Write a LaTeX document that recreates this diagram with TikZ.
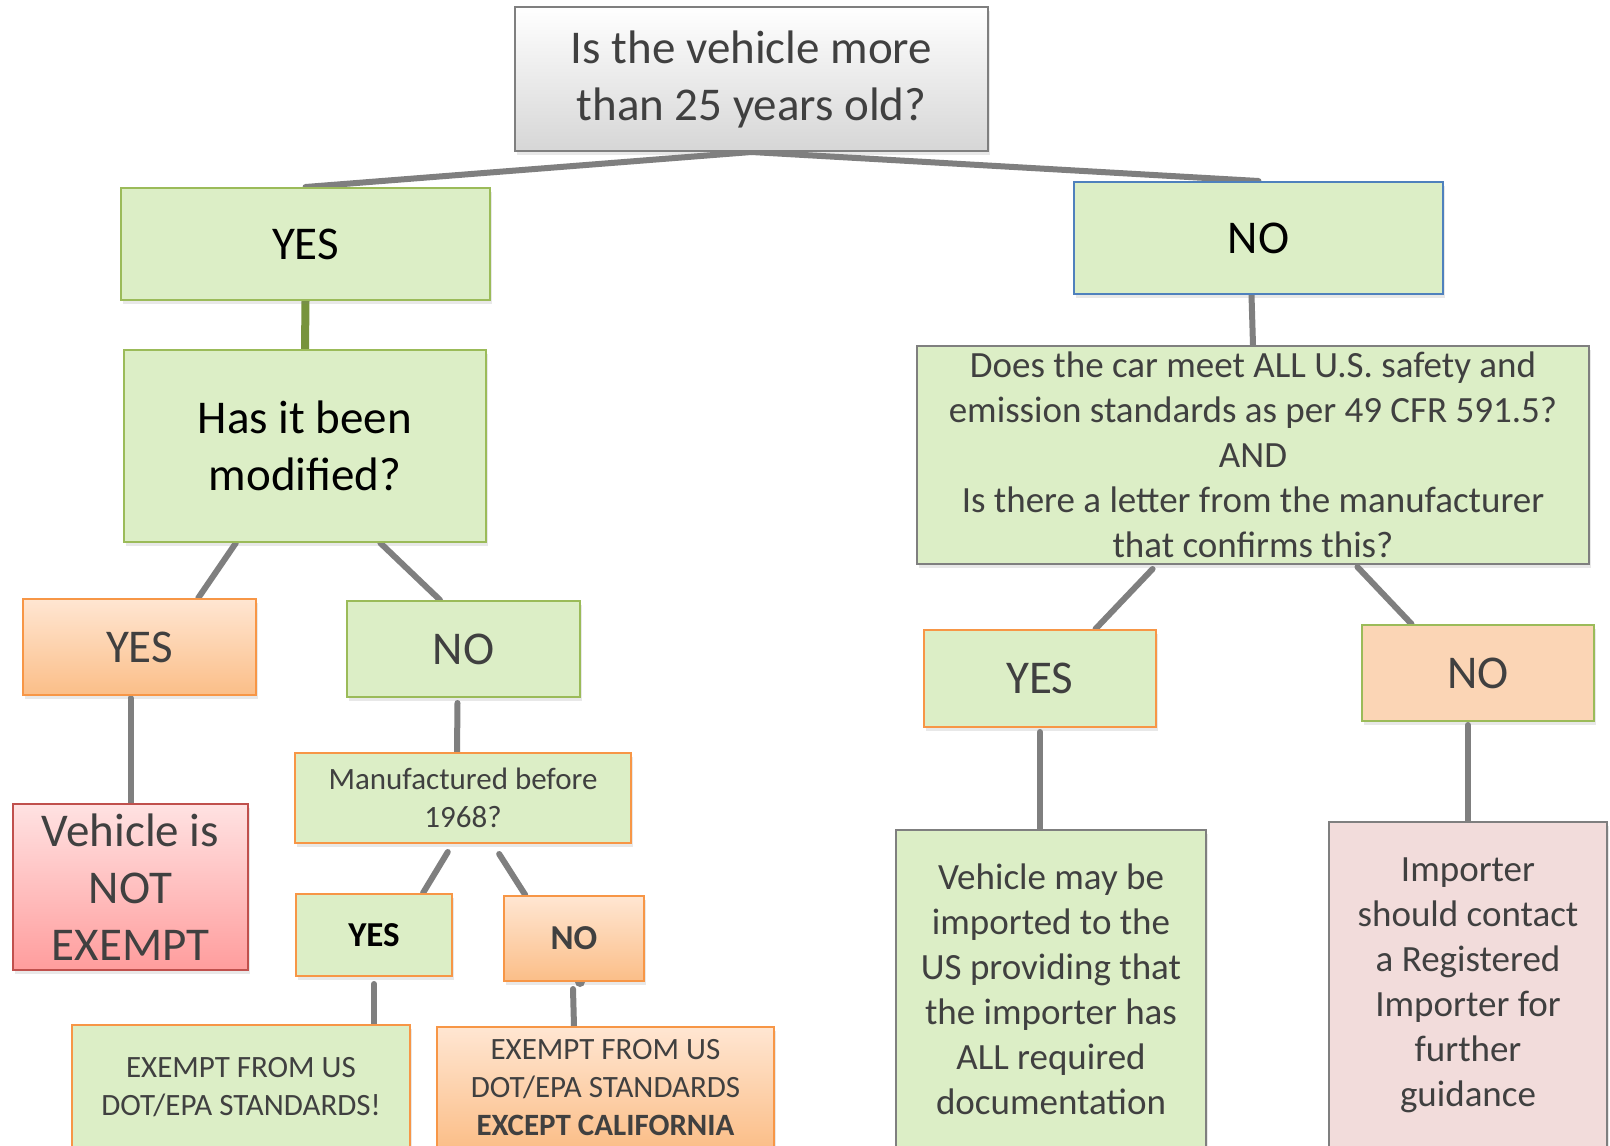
\documentclass[tikz,border=0pt]{standalone}
\usepackage{fontspec}
\setmainfont{Carlito}
\usetikzlibrary{shadows,calc,backgrounds}
\definecolor{gfill}{HTML}{DCEEC6}
\definecolor{gborder}{HTML}{9BBB59}
\definecolor{bborder}{HTML}{4F81BD}
\definecolor{oborder}{HTML}{F79646}
\definecolor{otop}{HTML}{FFE6D2}
\definecolor{obot}{HTML}{FBBE88}
\definecolor{rtop}{HTML}{FFE2E2}
\definecolor{rbot}{HTML}{FF9D9D}
\definecolor{rborder}{HTML}{C0504D}
\definecolor{pfill}{HTML}{F2DCDB}
\definecolor{nofill}{HTML}{FBD5B5}
\definecolor{gline}{HTML}{7F7F7F}
\definecolor{olive}{HTML}{77933C}
\definecolor{txt}{HTML}{404040}
\definecolor{graybot}{HTML}{D6D6D6}
\begin{document}
\begin{tikzpicture}[x=1pt,y=-1pt,
  box/.style={rectangle, line width=2pt, align=center, inner sep=0pt,
    drop shadow={shadow xshift=2pt,shadow yshift=-4pt,opacity=0.18}},
  conn/.style={draw=gline, line width=6pt, line cap=round},
  big/.style={font=\fontsize{47}{57}\selectfont},
  mid/.style={font=\fontsize{37}{45}\selectfont},
  sml/.style={font=\fontsize{31}{38}\selectfont},
  smb/.style={font=\fontsize{35}{42}\selectfont\bfseries},
  sz/.style 2 args={minimum width=#1pt, minimum height=#2pt},
]
\useasboundingbox (0,0) rectangle (1610,1146);
\clip (0,0) rectangle (1610,1146);

\node[box, draw=gline, top color=white, bottom color=graybot, text=txt, big, sz={473}{144}] (top) at (751.5,79) {Is the vehicle more\\than 25 years old?};
\node[box, draw=gborder, fill=gfill, big, sz={369}{112}] (yes1) at (305.5,244) {YES};
\node[box, draw=bborder, fill=gfill, big, sz={369}{112}] (no1) at (1258.5,238) {NO};
\node[box, draw=gborder, fill=gfill, big, sz={362}{192}] (mod) at (305,446) {Has it been\\modified?};
\node[box, draw=gline, fill=gfill, text=txt, mid, sz={672}{218}] (q) at (1253,455) {Does the car meet ALL U.S. safety and\\emission standards as per 49 CFR 591.5?\\AND\\Is there a letter from the manufacturer\\that confirms this?};
\node[box, draw=oborder, top color=otop, bottom color=obot, text=txt, big, sz={233}{96}] (yes2) at (139.5,647) {YES};
\node[box, draw=gborder, fill=gfill, text=txt, big, sz={233}{96}] (no2) at (463.5,649) {NO};
\node[box, draw=oborder, fill=gfill, text=txt, sml, sz={336}{90}] (manu) at (463,798) {Manufactured before\\1968?};
\node[box, draw=rborder, top color=rtop, bottom color=rbot, text=txt, big, sz={235}{166}] (notex) at (130.5,887) {Vehicle is\\NOT\\EXEMPT};
\node[box, draw=oborder, fill=gfill, smb, sz={156}{82}] (yes3) at (374,935) {YES};
\node[box, draw=oborder, top color=otop, bottom color=obot, text=txt, smb, sz={140}{85}] (no3) at (574,938.5) {NO};
\node[box, draw=oborder, fill=gfill, text=txt, sml, sz={338}{124}] (ex1) at (241,1087) {EXEMPT FROM US\\DOT/EPA STANDARDS!};
\node[box, draw=oborder, top color=otop, bottom color=obot, text=txt, sml, sz={337}{122}] (ex2) at (605.5,1088) {EXEMPT FROM US\\DOT/EPA STANDARDS\\\textbf{EXCEPT CALIFORNIA}};
\node[box, draw=oborder, fill=gfill, text=txt, big, sz={232}{97}] (yes4) at (1040,678.5) {YES};
\node[box, draw=gborder, fill=nofill, text=txt, big, sz={232}{96}] (no4) at (1478,673) {NO};
\node[box, draw=gline, fill=gfill, text=txt, mid, sz={310}{318}] (may) at (1051,989) {Vehicle may be\\imported to the\\US providing that\\the importer has\\ALL required\\documentation};
\node[box, draw=gline, fill=pfill, text=txt, mid, sz={278}{326}] (imp) at (1468,985) {Importer\\should contact\\a Registered\\Importer for\\further\\guidance};

\begin{pgfonlayer}{background}
\fill[white] (0,0) rectangle (1610,1146);
\draw[conn] (top.south) -- (yes1.north);
\draw[conn] (top.south) -- (no1.north);
\draw[draw=olive, line width=8pt] (yes1.south) -- (mod.north);
\draw[conn] ($(no1.south)+(-7,0)$) -- (q.north);
\draw[conn] ($(mod.south west)!0.31!(mod.south east)$) -- ($(yes2.north west)!0.75!(yes2.north east)$);
\draw[conn] ($(mod.south west)!0.707!(mod.south east)$) -- ($(no2.north west)!0.40!(no2.north east)$);
\draw[conn] ($(yes2.south)+(-9,2)$) -- (notex.north);
\draw[conn] ($(no2.south)+(-6,5)$) -- ($(manu.north)+(-6,0)$);
\draw[conn] ($(manu.south west)!0.455!(manu.south east)+(0,8)$) -- ($(yes3.north west)!0.81!(yes3.north east)$);
\draw[conn] ($(manu.south west)!0.607!(manu.south east)+(0,10)$) -- ($(no3.north west)!0.157!(no3.north east)$);
\draw[conn] ($(yes3.south)+(0,7)$) -- (yes3.south |- ex1.north);
\draw[conn] ($(no3.south)+(-1,7)$) -- (no3.south |- ex2.north);
\fill[gline] ($(no3.south)+(6,0)$) circle (5);
\draw[conn] ($(yes4.south)+(0,4)$) -- (yes4.south |- may.north);
\draw[conn] ($(no4.south)+(-10,3)$) -- (imp.north);
\draw[conn] ($(q.south west)!0.351!(q.south east)+(0,4)$) -- ($(yes4.north west)!0.737!(yes4.north east)$);
\draw[conn] ($(q.south west)!0.655!(q.south east)+(0,2)$) -- ($(no4.north west)!0.216!(no4.north east)$);
\end{pgfonlayer}
\end{tikzpicture}
\end{document}
